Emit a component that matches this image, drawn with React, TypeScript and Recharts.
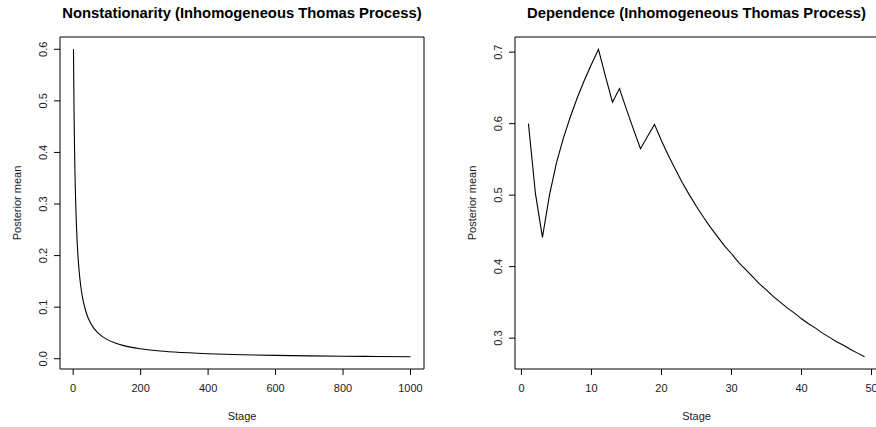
import React from 'react';
import { LineChart, Line, XAxis, YAxis, ReferenceArea } from 'recharts';

// Left panel: nonstationarity, stages 1..1000
const leftStages = [1, 2, 3, 4, 5, 6, 8, 10, 12, 15, 20, 25, 30, 40, 50, 60, 70, 80, 100, 125, 150, 200, 250, 300, 400, 500, 600, 700, 800, 900, 1000];
const leftMeans = [0.6, 0.521, 0.46, 0.4125, 0.3736, 0.3414, 0.2912, 0.2538, 0.225, 0.1922, 0.1547, 0.1294, 0.1112, 0.0868, 0.0712, 0.0604, 0.0524, 0.0463, 0.0375, 0.0303, 0.0254, 0.0193, 0.0155, 0.013, 0.0098, 0.0078, 0.0065, 0.0056, 0.0049, 0.0044, 0.0039];
const leftXTicks = [0, 200, 400, 600, 800, 1000];
const leftYTicks = [0, 0.1, 0.2, 0.3, 0.4, 0.5, 0.6];

// Right panel: dependence, stages 1..49
const rightStages = [1, 2, 3, 4, 5, 6, 7, 8, 9, 10, 11, 12, 13, 14, 15, 16, 17, 18, 19, 20, 21, 22, 23, 24, 25, 26, 27, 28, 29, 30, 31, 32, 33, 34, 35, 36, 37, 38, 39, 40, 41, 42, 43, 44, 45, 46, 47, 48, 49];
const rightMeans = [0.6, 0.502, 0.441, 0.5, 0.545, 0.58, 0.61, 0.637, 0.661, 0.683, 0.704, 0.666, 0.63, 0.649, 0.62, 0.592, 0.565, 0.582, 0.599, 0.576, 0.555, 0.536, 0.517, 0.5, 0.484, 0.469, 0.455, 0.442, 0.429, 0.418, 0.406, 0.396, 0.386, 0.376, 0.367, 0.358, 0.35, 0.342, 0.335, 0.327, 0.32, 0.314, 0.307, 0.301, 0.295, 0.29, 0.284, 0.279, 0.274];
const rightXTicks = [0, 10, 20, 30, 40, 50];
const rightYTicks = [0.3, 0.4, 0.5, 0.6, 0.7];

const FONT = '"Liberation Sans", Arial, Helvetica, sans-serif';
const INK = '#1a1a1a';

const YTick = (props: any) => {
  const { x, y, payload } = props;
  const bx = x - 5;
  return (
    <text x={bx} y={y} transform={`rotate(-90, ${bx}, ${y})`} textAnchor="middle" fontSize={11} fontFamily={FONT} fill={INK}>
      {Number(payload.value).toFixed(1)}
    </text>
  );
};

interface PanelProps {
  left: number;
  width: number;
  plotLeft: number;
  plotRight: number;
  stages: number[];
  means: number[];
  xDomain: [number, number];
  yDomain: [number, number];
  xTicks: number[];
  yTicks: number[];
  lineType: 'linear' | 'monotone';
  title: string;
}

const Panel: React.FC<PanelProps> = ({ left, width, plotLeft, plotRight, stages, means, xDomain, yDomain, xTicks, yTicks, lineType, title }) => {
  const data = stages.map((s, i) => ({ stage: s, mean: means[i] }));
  const plotTop = 37;
  const plotBottom = 369;
  const yAxisW = 40;
  const xAxisH = 30;
  const center = (plotLeft + plotRight) / 2;
  return (
    <div style={{ position: 'absolute', left, top: 0, width, height: 427 }}>
      <LineChart
        width={width}
        height={427}
        data={data}
        margin={{ top: plotTop, right: width - plotRight, bottom: 427 - plotBottom - xAxisH, left: plotLeft - yAxisW }}
      >
        <XAxis
          dataKey="stage"
          type="number"
          domain={xDomain}
          ticks={xTicks}
          allowDataOverflow
          height={xAxisH}
          axisLine={false}
          tickLine={{ stroke: '#000' }}
          tickSize={6}
          tickMargin={9}
          tick={{ fontSize: 11, fontFamily: FONT, fill: INK }}
          interval={0}
        />
        <YAxis
          type="number"
          domain={yDomain}
          ticks={yTicks}
          allowDataOverflow
          width={yAxisW}
          axisLine={false}
          tickLine={{ stroke: '#000' }}
          tickSize={6}
          tick={<YTick />}
          interval={0}
        />
        <ReferenceArea
          x1={xDomain[0]}
          x2={xDomain[1]}
          y1={yDomain[0]}
          y2={yDomain[1]}
          fill="none"
          stroke="#000"
          strokeWidth={1}
          ifOverflow="visible"
        />
        <Line
          type={lineType}
          dataKey="mean"
          stroke="#000"
          strokeWidth={1.1}
          dot={false}
          isAnimationActive={false}
        />
      </LineChart>
      <div style={{ position: 'absolute', left: center - 250, width: 500, top: 3, textAlign: 'center', fontFamily: FONT, fontWeight: 'bold', fontSize: 14.8, color: '#000', lineHeight: '20px' }}>
        {title}
      </div>
      <div style={{ position: 'absolute', left: center - 100, width: 200, top: 408, textAlign: 'center', fontFamily: FONT, fontSize: 11, color: INK, lineHeight: '16px' }}>
        Stage
      </div>
      <div style={{ position: 'absolute', left: plotLeft - 43 - 100, top: (plotTop + plotBottom) / 2 - 8, width: 200, textAlign: 'center', fontFamily: FONT, fontSize: 11, color: INK, lineHeight: '16px', transform: 'rotate(-90deg)' }}>
        Posterior mean
      </div>
    </div>
  );
};

export default function App() {
  return (
    <div style={{ position: 'absolute', left: 0, top: 0, width: 876, height: 427, overflow: 'hidden', background: '#fff' }}>
      <Panel
        left={0}
        width={438}
        plotLeft={60}
        plotRight={424}
        stages={leftStages}
        means={leftMeans}
        xDomain={[-39, 1040]}
        yDomain={[-0.0199, 0.6238]}
        xTicks={leftXTicks}
        yTicks={leftYTicks}
        lineType="monotone"
        title="Nonstationarity (Inhomogeneous Thomas Process)"
      />
      <Panel
        left={438}
        width={450}
        plotLeft={77}
        plotRight={440}
        stages={rightStages}
        means={rightMeans}
        xDomain={[-0.92, 50.92]}
        yDomain={[0.2568, 0.7212]}
        xTicks={rightXTicks}
        yTicks={rightYTicks}
        lineType="linear"
        title="Dependence (Inhomogeneous Thomas Process)"
      />
    </div>
  );
}
